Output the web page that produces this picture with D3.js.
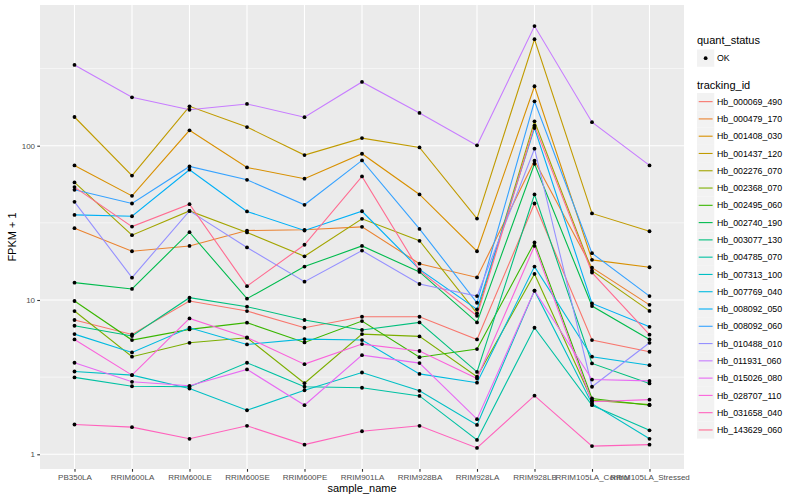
<!DOCTYPE html>
<html>
<head>
<meta charset="utf-8">
<script src="https://cdn.jsdelivr.net/npm/d3@7"></script>
<style>
  body { margin: 0; background: #fff; }
  text { font-family: "Liberation Sans", Arial, Helvetica, sans-serif; }
</style>
</head>
<body>
<div id="chart"></div>
<script>
// samples on the x axis
const samples = ['PB350LA', 'RRIM600LA', 'RRIM600LE', 'RRIM600SE', 'RRIM600PE', 'RRIM901LA',
    'RRIM928BA', 'RRIM928LA', 'RRIM928LB', 'RRIM105LA_Control', 'RRIM105LA_Stressed'];

const trackingIds = ['Hb_000069_490', 'Hb_000479_170', 'Hb_001408_030', 'Hb_001437_120', 'Hb_002276_070',
    'Hb_002368_070', 'Hb_002495_060', 'Hb_002740_190', 'Hb_003077_130', 'Hb_004785_070',
    'Hb_007313_100', 'Hb_007769_040', 'Hb_008092_050', 'Hb_008092_060', 'Hb_010488_010',
    'Hb_011931_060', 'Hb_015026_080', 'Hb_028707_110', 'Hb_031658_040', 'Hb_143629_060'];

// ggplot default hue palette, 20 levels
const colorsArray = ['#F8766D', '#EA8331', '#D89000', '#C09B00', '#A3A500', '#7CAE00', '#39B600',
    '#00BB4E', '#00BF7D', '#00C1A3', '#00BFC4', '#00BAE0', '#00B0F6', '#35A2FF', '#9590FF',
    '#C77CFF', '#E76BF3', '#FA62DB', '#FF62BC', '#FF6C91'];

// FPKM per sample (same order as samples)
const Hb_000069_490 = [6.42, 4.98, 8.85, 7.48, 5.61, 6.79, 6.79, 4.55, 41.2, 4.5, 3.62];
const Hb_000479_170 = [28.2, 19.7, 21.4, 27.2, 27.5, 28.8, 16.2, 13.0, 78.9, 15.2, 8.3];
const Hb_001408_030 = [73.5, 46.3, 124.8, 71.3, 60.1, 87.7, 47.3, 19.7, 241.8, 17.2, 15.3];
const Hb_001437_120 = [152.5, 63, 179, 131, 86, 111, 96.5, 32.7, 489, 35.4, 26.9];
const Hb_002276_070 = [56.8, 25.3, 36.8, 26.4, 18.2, 32.6, 23.2, 7.2, 142.9, 14.5, 7.5];
const Hb_002368_070 = [7.48, 3.29, 4.28, 4.69, 1.89, 5.01, 4.81, 2.18, 13.75, 1.24, 1.10];
const Hb_002495_060 = [8.85, 4.5, 5.45, 6.13, 4.31, 6.3, 3.26, 3.81, 22.6, 1.3, 1.08];
const Hb_002740_190 = [11.96, 10.79, 26.5, 9.2, 15.46, 21.4, 14.2, 6.16, 75.4, 8.14, 4.55];
const Hb_003077_130 = [5.81, 4.84, 9.35, 8.05, 6.42, 5.39, 6.16, 2.42, 47.3, 2.88, 1.88];
const Hb_004785_070 = [2.15, 1.76, 1.74, 2.92, 1.74, 1.70, 1.39, 0.24, 5.61, 1.08, 0.43];
const Hb_007313_100 = [2.44, 2.26, 1.67, 0.93, 1.6, 2.39, 1.58, 0.55, 10.5, 1.13, 0.26];
const Hb_007769_040 = [5.01, 3.57, 5.61, 4.15, 4.58, 4.5, 2.32, 1.91, 15.46, 3.29, 2.78];
const Hb_008092_050 = [34.6, 33.9, 68.9, 36.5, 27.2, 36.6, 14.8, 7.7, 129.2, 8.5, 5.7];
const Hb_008092_060 = [50.8, 41.2, 72.4, 59.1, 40.4, 79.3, 27.9, 8.6, 193, 19.1, 9.6];
const Hb_010488_010 = [42.3, 12.96, 36.8, 20.9, 12.15, 19.9, 11.7, 9.6, 94.6, 1.74, 4.28];
const Hb_011931_060 = [333, 205, 170, 185.5, 152, 258, 162, 99.5, 595, 141, 73.5];
const Hb_015026_080 = [2.92, 1.95, 1.78, 2.55, 1.08, 3.39, 2.9, 0.69, 10.5, 2.05, 1.99];
const Hb_028707_110 = [4.55, 2.26, 6.6, 4.72, 2.84, 4.18, 3.67, 2.1, 21.4, 1.19, 1.26];
const Hb_031658_040 = [0.56, 0.50, 0.26, 0.53, 0.155, 0.41, 0.53, 0.10, 1.40, 0.13, 0.155];
const Hb_143629_060 = [52.9, 28.9, 40.8, 11.3, 21.8, 62.2, 14.5, 6.9, 133.9, 14.05, 4.96];

const fpkmArrays = [Hb_000069_490, Hb_000479_170, Hb_001408_030, Hb_001437_120, Hb_002276_070,
    Hb_002368_070, Hb_002495_060, Hb_002740_190, Hb_003077_130, Hb_004785_070,
    Hb_007313_100, Hb_007769_040, Hb_008092_050, Hb_008092_060, Hb_010488_010,
    Hb_011931_060, Hb_015026_080, Hb_028707_110, Hb_031658_040, Hb_143629_060];

const yTicks = [1, 10, 100];
const quantStatus = ['OK'];

const width = 800;
const height = 500;
const panel = { left: 40, right: 684, top: 5, bottom: 469 };

const series = trackingIds.map((id, i) => ({
    id: id,
    color: colorsArray[i],
    values: samples.map((s, j) => ({ sample: s, value: fpkmArrays[i][j] + 1 }))
}));

const allValues = series.flatMap(s => s.values.map(d => d.value));
const lo = Math.log10(d3.min(allValues));
const hi = Math.log10(d3.max(allValues));
const pad = (hi - lo) * 0.05;

const x = d3.scalePoint()
    .domain(samples)
    .range([panel.left, panel.right])
    .padding(0.6);

const y = d3.scaleLog()
    .domain([Math.pow(10, lo - pad), Math.pow(10, hi + pad)])
    .range([panel.bottom, panel.top]);

const svg = d3.select('#chart')
    .append('svg')
    .attr('width', width)
    .attr('height', height)
    .style('background-color', 'white');

svg.append('rect')
    .attr('x', panel.left)
    .attr('y', panel.top)
    .attr('width', panel.right - panel.left)
    .attr('height', panel.bottom - panel.top)
    .attr('fill', '#EBEBEB');

// minor grid at half decades
const minorTicks = [-0.5, 0.5, 1.5, 2.5].map(e => Math.pow(10, e))
    .filter(v => y(v) > panel.top && y(v) < panel.bottom);

svg.append('g')
    .selectAll('line')
    .data(minorTicks)
    .join('line')
    .attr('x1', panel.left)
    .attr('x2', panel.right)
    .attr('y1', d => y(d))
    .attr('y2', d => y(d))
    .attr('stroke', 'white')
    .attr('stroke-width', 0.55);

svg.append('g')
    .selectAll('line')
    .data(yTicks)
    .join('line')
    .attr('x1', panel.left)
    .attr('x2', panel.right)
    .attr('y1', d => y(d))
    .attr('y2', d => y(d))
    .attr('stroke', 'white')
    .attr('stroke-width', 1.1);

svg.append('g')
    .selectAll('line')
    .data(samples)
    .join('line')
    .attr('x1', d => x(d))
    .attr('x2', d => x(d))
    .attr('y1', panel.top)
    .attr('y2', panel.bottom)
    .attr('stroke', 'white')
    .attr('stroke-width', 1.1);

const line = d3.line()
    .x(d => x(d.sample))
    .y(d => y(d.value));

svg.append('g')
    .selectAll('path')
    .data(series)
    .join('path')
    .attr('d', d => line(d.values))
    .attr('fill', 'none')
    .attr('stroke', d => d.color)
    .attr('stroke-width', 1.1);

svg.append('g')
    .selectAll('circle')
    .data(allValues.map((v, k) => ({ value: v, sample: samples[k % samples.length] })))
    .join('circle')
    .attr('cx', d => x(d.sample))
    .attr('cy', d => y(d.value))
    .attr('r', 1.9)
    .attr('fill', 'black');

// axes
const xAxis = svg.append('g')
    .attr('transform', `translate(0, ${panel.bottom})`)
    .call(d3.axisBottom(x).tickSize(2.75).tickPadding(2.2));

const yAxis = svg.append('g')
    .attr('transform', `translate(${panel.left}, 0)`)
    .call(d3.axisLeft(y).tickValues(yTicks).tickFormat(d3.format('d')).tickSize(2.75).tickPadding(2.2));

[xAxis, yAxis].forEach(a => {
    a.select('.domain').remove();
    a.selectAll('.tick line').attr('stroke', '#333333').attr('stroke-width', 1.1);
    a.selectAll('.tick text')
        .attr('fill', '#4D4D4D')
        .style('font-size', '8px')
        .style('font-family', '"Liberation Sans", Arial, sans-serif');
});

svg.append('text')
    .attr('x', (panel.left + panel.right) / 2)
    .attr('y', 492)
    .attr('text-anchor', 'middle')
    .style('font-size', '11px')
    .text('sample_name');

svg.append('text')
    .attr('transform', `translate(16, ${(panel.top + panel.bottom) / 2}) rotate(-90)`)
    .attr('text-anchor', 'middle')
    .style('font-size', '11px')
    .text('FPKM + 1');

// legends
const legend = svg.append('g')
    .attr('transform', 'translate(697, 0)');

legend.append('text')
    .attr('x', 0)
    .attr('y', 44)
    .style('font-size', '11px')
    .text('quant_status');

const qs = legend.selectAll('g.qs')
    .data(quantStatus)
    .join('g')
    .attr('class', 'qs')
    .attr('transform', (d, i) => `translate(0, ${49.5 + i * 17.28})`);

qs.append('rect')
    .attr('width', 17.28)
    .attr('height', 17.28)
    .attr('fill', '#F2F2F2');

qs.append('circle')
    .attr('cx', 8.64)
    .attr('cy', 8.64)
    .attr('r', 1.9)
    .attr('fill', 'black');

qs.append('text')
    .attr('x', 20)
    .attr('y', 11.8)
    .style('font-size', '8.8px')
    .text(d => d);

legend.append('text')
    .attr('x', 0)
    .attr('y', 89)
    .style('font-size', '11px')
    .text('tracking_id');

const item = legend.selectAll('g.legend-item')
    .data(series)
    .join('g')
    .attr('class', 'legend-item')
    .attr('transform', (d, i) => `translate(0, ${93 + i * 17.28})`);

item.append('rect')
    .attr('width', 17.28)
    .attr('height', 17.28)
    .attr('fill', '#F2F2F2');

item.append('line')
    .attr('x1', 1.7)
    .attr('x2', 15.6)
    .attr('y1', 8.64)
    .attr('y2', 8.64)
    .attr('stroke', d => d.color)
    .attr('stroke-width', 1.1);

item.append('text')
    .attr('x', 20)
    .attr('y', 11.8)
    .style('font-size', '8.8px')
    .text(d => d.id);
</script>
</body>
</html>
